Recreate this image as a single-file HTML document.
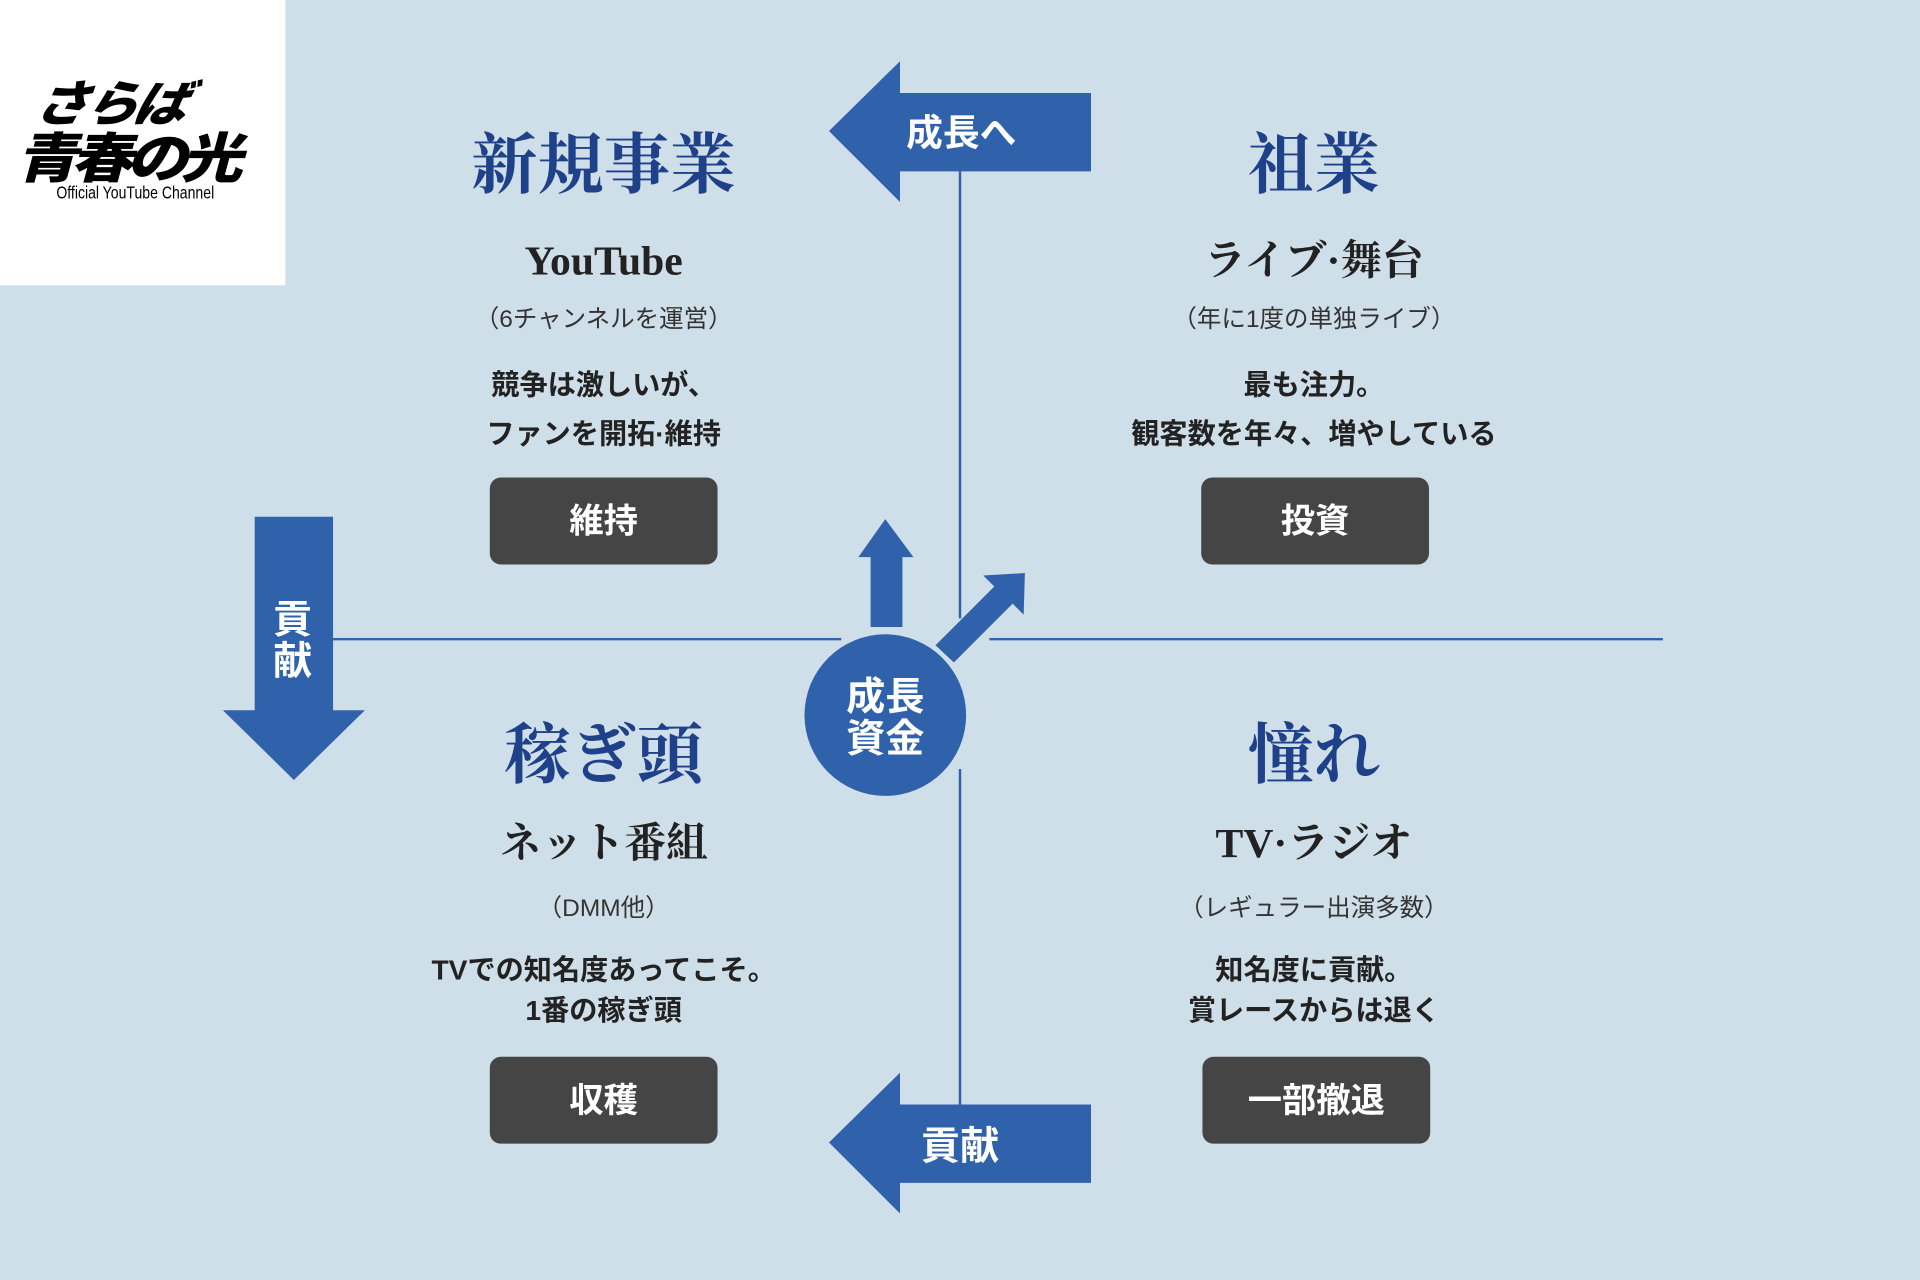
<!DOCTYPE html>
<html><head><meta charset="utf-8"><style>
html,body{margin:0;padding:0;width:1920px;height:1280px;overflow:hidden;background:#cfdfe9}
#s{position:absolute;left:0;top:0;width:1568px;height:1045px;transform:scale(1.22449);transform-origin:0 0;background:#cfdfe9}
.t{position:absolute;width:600px;text-align:center;white-space:nowrap;line-height:1}
.serif{font-family:"Liberation Serif","Noto Serif CJK SC",serif}
.sans{font-family:"Liberation Sans","Noto Sans CJK JP",sans-serif}
.h{font-size:54px;font-weight:bold;color:#1e4189}
.sub{font-size:34px;font-weight:bold;color:#222}
.p{font-size:20px;color:#333}
.d{font-size:23px;font-weight:bold;color:#222}
.btn{position:absolute;width:186px;height:71px;background:#454545;border-radius:9px;color:#fff;font:bold 28px/71px "Liberation Sans","Noto Sans CJK JP",sans-serif;text-align:center}
.w{position:absolute;color:#fff;font-weight:bold;font-family:"Liberation Sans","Noto Sans CJK JP",sans-serif;line-height:1}
</style></head><body><div id="s">
<div style="position:absolute;left:0;top:0;width:233px;height:233px;background:#fff"></div>
<div style="position:absolute;left:34px;top:62px;font:italic 900 40px/1 'Noto Sans CJK JP',sans-serif;letter-spacing:-3px;transform:skewX(-12deg) scaleX(1.1);transform-origin:0 0;color:#000">さらば</div>
<div style="position:absolute;left:24px;top:104px;font:900 44px/1 'Noto Sans CJK JP',sans-serif;letter-spacing:-5px;transform:skewX(-15deg) scaleX(1.15);transform-origin:0 0;color:#000">青春の光</div>
<div style="position:absolute;left:46px;top:150px;font:14px/1 'Liberation Sans',sans-serif;transform:scaleX(0.82);transform-origin:0 0;color:#000;width:170px">Official YouTube Channel</div>

<svg width="1568" height="1045" style="position:absolute;left:0;top:0">
<g stroke="#3062ac" stroke-width="2">
<line x1="784" y1="140" x2="784" y2="505"/>
<line x1="784" y1="628" x2="784" y2="902"/>
<line x1="272" y1="522" x2="687" y2="522"/>
<line x1="808" y1="522" x2="1358" y2="522"/>
</g>
<g fill="#3062ac">
<polygon points="677,107 735,50 735,76 891,76 891,140 735,140 735,165"/>
<polygon points="677,933 735,876 735,902 891,902 891,966 735,966 735,991"/>
<polygon points="208,422 272,422 272,580 298,580 240,637 182,580 208,580"/>
<polygon points="711,512 711,455 701,455 723,424 746,455 737,455 737,512"/>
<polygon points="764,527 812,479 803,470 837,468 836,502 827,493 779,541"/>
<circle cx="723" cy="584" r="66"/>
</g>
</svg>
<div class="w" style="left:740px;top:95px;font-size:30px">成長へ</div>
<div class="w" style="left:752px;top:920px;font-size:32px">貢献</div>
<div class="w" style="left:223px;top:489px;font-size:32px;width:34px;line-height:34px">貢献</div>
<div class="w" style="left:687px;top:552px;font-size:32px;line-height:34px;width:72px;text-align:center">成長<br>資金</div>

<div class="t serif h" style="left:193px;top:108px">新規事業</div>
<div class="t serif sub" style="left:193px;top:197px">YouTube</div>
<div class="t sans p" style="left:193px;top:251px">（6チャンネルを運営）</div>
<div class="t sans d" style="left:193px;top:303px">競争は激しいが、</div>
<div class="t sans d" style="left:193px;top:343px">ファンを開拓·維持</div>
<div class="btn" style="left:400px;top:390px">維持</div>

<div class="t serif h" style="left:773px;top:108px">祖業</div>
<div class="t serif sub" style="left:773px;top:197px">ライブ·舞台</div>
<div class="t sans p" style="left:773px;top:251px">（年に1度の単独ライブ）</div>
<div class="t sans d" style="left:773px;top:303px">最も注力。</div>
<div class="t sans d" style="left:773px;top:343px">観客数を年々、増やしている</div>
<div class="btn" style="left:981px;top:390px">投資</div>

<div class="t serif h" style="left:193px;top:590px">稼ぎ頭</div>
<div class="t serif sub" style="left:193px;top:673px">ネット番組</div>
<div class="t sans p" style="left:193px;top:732px">（DMM他）</div>
<div class="t sans d" style="left:193px;top:781px">TVでの知名度あってこそ。</div>
<div class="t sans d" style="left:193px;top:814px">1番の稼ぎ頭</div>
<div class="btn" style="left:400px;top:863px">収穫</div>

<div class="t serif h" style="left:773px;top:590px">憧れ</div>
<div class="t serif sub" style="left:773px;top:673px">TV·ラジオ</div>
<div class="t sans p" style="left:773px;top:732px">（レギュラー出演多数）</div>
<div class="t sans d" style="left:773px;top:781px">知名度に貢献。</div>
<div class="t sans d" style="left:773px;top:814px">賞レースからは退く</div>
<div class="btn" style="left:982px;top:863px">一部撤退</div>
</div></body></html>
